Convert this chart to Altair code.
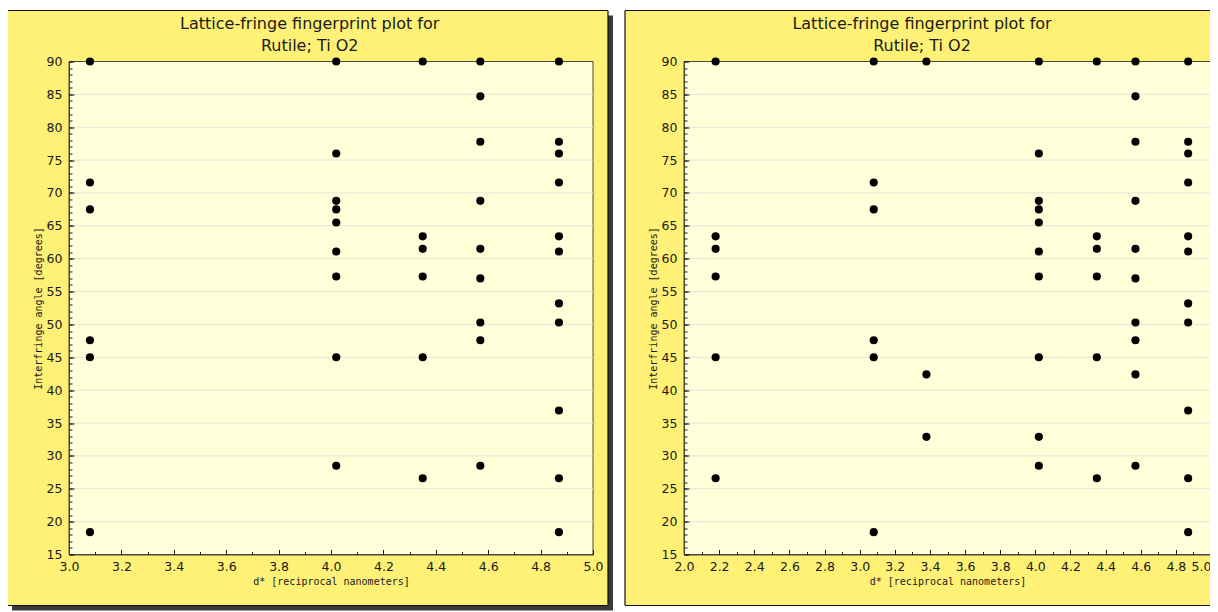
import altair as alt
import pandas as pd

# ---------------- text ----------------
TITLE = ["Lattice-fringe fingerprint plot for", "Rutile; Ti O2"]
X_TITLE = "d* [reciprocal nanometers]"
Y_TITLE = "Interfringe angle [degrees]"

# ---------------- data: left panel ----------------
L_X = [3.08, 4.02, 4.35, 4.57, 4.87]
L_Y_308 = [90.0, 71.6, 67.5, 47.6, 45.0, 18.4]
L_Y_402 = [90.0, 76.0, 68.8, 67.5, 65.5, 61.1, 57.3, 45.0, 28.5]
L_Y_435 = [90.0, 63.4, 61.5, 57.3, 45.0, 26.6]
L_Y_457 = [90.0, 84.7, 77.8, 68.8, 61.5, 57.0, 50.3, 47.6, 28.5]
L_Y_487 = [90.0, 77.8, 76.0, 71.6, 63.4, 61.1, 53.2, 50.3, 36.9, 26.6, 18.4]

# ---------------- data: right panel ----------------
R_X = [2.18, 3.08, 3.38, 4.02, 4.35, 4.57, 4.87]
R_Y_218 = [90.0, 63.4, 61.5, 57.3, 45.0, 26.6]
R_Y_308 = [90.0, 71.6, 67.5, 47.6, 45.0, 18.4]
R_Y_338 = [90.0, 42.4, 32.9]
R_Y_402 = [90.0, 76.0, 68.8, 67.5, 65.5, 61.1, 57.3, 45.0, 32.9, 28.5]
R_Y_435 = [90.0, 63.4, 61.5, 57.3, 45.0, 26.6]
R_Y_457 = [90.0, 84.7, 77.8, 68.8, 61.5, 57.0, 50.3, 47.6, 42.4, 28.5]
R_Y_487 = [90.0, 77.8, 76.0, 71.6, 63.4, 61.1, 53.2, 50.3, 36.9, 26.6, 18.4]

# ---------------- ticks ----------------
Y_MAJOR = [15, 20, 25, 30, 35, 40, 45, 50, 55, 60, 65, 70, 75, 80, 85, 90]
Y_GRID = [20, 25, 30, 35, 40, 45, 50, 55, 60, 65, 70, 75, 80, 85]
Y_MINOR = list(range(15, 91))
L_X_MAJOR = [3.0, 3.2, 3.4, 3.6, 3.8, 4.0, 4.2, 4.4, 4.6, 4.8, 5.0]
L_X_MINOR = [3.1, 3.3, 3.5, 3.7, 3.9, 4.1, 4.3, 4.5, 4.7, 4.9]
R_X_MAJOR = [2.0, 2.2, 2.4, 2.6, 2.8, 3.0, 3.2, 3.4, 3.6, 3.8, 4.0, 4.2,
             4.4, 4.6, 4.8, 5.0]
R_X_MINOR = [2.1, 2.3, 2.5, 2.7, 2.9, 3.1, 3.3, 3.5, 3.7, 3.9, 4.1, 4.3,
             4.5, 4.7, 4.9]

# ---------------- style ----------------
BOX = "#FFF176"
PLOT = "#FFFFDA"
GRID = "#E4E4DC"
SHADOW = "#3A3A3A"
BORDER = "#4A4A3A"
INK = "#1A1A1A"
H = 493


def make_df(xs, cols):
    rows = []
    for xv, ys in zip(xs, cols):
        for yv in ys:
            rows.append({"d": xv, "angle": yv})
    return pd.DataFrame(rows)


def panel(df, x_domain, x_major, x_minor, W, box_l, box_r, shadow, close_right,
          flush_last):
    one = pd.DataFrame({"k": [0]})
    xs = alt.Scale(domain=x_domain, nice=False, zero=False)
    ys = alt.Scale(domain=[15, 90], nice=False, zero=False)
    layers = []
    if shadow:
        layers.append(
            alt.Chart(one).mark_rect(fill=SHADOW).encode(
                x=alt.value(box_l + 5), x2=alt.value(box_r + 5),
                y=alt.value(-46), y2=alt.value(549)))
    layers.append(
        alt.Chart(one).mark_rect(fill=BOX).encode(
            x=alt.value(box_l), x2=alt.value(box_r),
            y=alt.value(-51), y2=alt.value(544)))
    # box frame lines
    frame = alt.Chart(one).mark_rule(color="#111111", strokeWidth=1.2)
    layers.append(frame.encode(x=alt.value(box_l), x2=alt.value(box_r),
                               y=alt.value(-51)))
    layers.append(frame.encode(x=alt.value(box_l), x2=alt.value(box_r),
                               y=alt.value(544)))
    layers.append(frame.encode(x=alt.value(box_l), y=alt.value(-51),
                               y2=alt.value(544)))
    if close_right:
        layers.append(frame.encode(x=alt.value(box_r), y=alt.value(-51),
                                   y2=alt.value(544)))
    layers.append(
        alt.Chart(one).mark_rect(fill=PLOT, stroke=BORDER, strokeWidth=1).encode(
            x=alt.value(0), x2=alt.value(W), y=alt.value(0), y2=alt.value(H)))
    layers.append(
        alt.Chart(pd.DataFrame({"g": Y_GRID})).mark_rule(color=GRID, strokeWidth=1).encode(
            y=alt.Y("g:Q", scale=ys, axis=None),
            x=alt.value(0), x2=alt.value(W)))
    x_axis_kw = dict(
        orient="bottom", values=x_major, format=".1f", title=X_TITLE,
        tickSize=0, grid=False, domainColor=BORDER, labelPadding=6,
        labelFlush=False, titlePadding=3, zindex=1)
    if flush_last:
        x_axis_kw["labelAlign"] = {
            "condition": {"test": "datum.value >= %s" % x_domain[1], "value": "right"},
            "value": "center"}
    # visible points, with labelled axes
    layers.append(
        alt.Chart(df).mark_circle(size=66, color="black", opacity=1).encode(
            x=alt.X("d:Q", scale=xs, axis=alt.Axis(**x_axis_kw)),
            y=alt.Y("angle:Q", scale=ys, axis=alt.Axis(
                orient="left", values=Y_MAJOR, format="d", title=Y_TITLE,
                tickSize=0, grid=False, domainColor=BORDER, labelPadding=7,
                labelFlush=False, titlePadding=3, zindex=1))))
    # minor inward ticks
    layers.append(
        alt.Chart(df).mark_circle(opacity=0).encode(
            x=alt.X("d:Q", scale=xs, axis=alt.Axis(
                orient="top", offset=-H, values=x_minor, labels=False, domain=False,
                tickSize=3, grid=False, title=None, tickColor=INK, zindex=1)),
            y=alt.Y("angle:Q", scale=ys, axis=alt.Axis(
                orient="right", offset=-W, values=Y_MINOR, labels=False, domain=False,
                tickSize=3, grid=False, title=None, tickColor=INK, zindex=1))))
    # major inward ticks
    layers.append(
        alt.Chart(df).mark_circle(opacity=0).encode(
            x=alt.X("d:Q", scale=xs, axis=alt.Axis(
                orient="top", offset=-H, values=x_major, labels=False, domain=False,
                tickSize=5, grid=False, title=None, tickColor=INK, zindex=1)),
            y=alt.Y("angle:Q", scale=ys, axis=alt.Axis(
                orient="right", offset=-W, values=Y_MAJOR, labels=False, domain=False,
                tickSize=5, grid=False, title=None, tickColor=INK, zindex=1))))
    return alt.layer(*layers).resolve_axis(x="independent", y="independent").properties(
        width=W, height=H,
        title=alt.TitleParams(text=TITLE, fontSize=16, font="DejaVu Sans",
                              fontWeight="normal", color=INK, anchor="middle",
                              frame="bounds", offset=-44, lineHeight=22))


left_df = make_df(L_X, [L_Y_308, L_Y_402, L_Y_435, L_Y_457, L_Y_487])
right_df = make_df(R_X, [R_Y_218, R_Y_308, R_Y_338, R_Y_402, R_Y_435, R_Y_457, R_Y_487])

left = panel(left_df, [3.0, 5.0], L_X_MAJOR, L_X_MINOR, 524, -62, 539, True, True, False)
right = panel(right_df, [2.0, 5.0], R_X_MAJOR, R_X_MINOR, 527, -59, 535, False, False, True)

chart = alt.hconcat(left, right, spacing=11).properties(
    padding={"left": -2, "top": 1.5, "right": -10, "bottom": 0},
    background="white",
).configure_view(stroke=None).configure_axis(
    labelFont="DejaVu Sans", labelFontSize=12.5, labelColor=INK,
    titleFont="DejaVu Sans Mono", titleFontSize=10, titleFontWeight="normal",
    titleColor=INK,
)

chart.save("out.html", embed_options={"renderer": "svg", "actions": False})
